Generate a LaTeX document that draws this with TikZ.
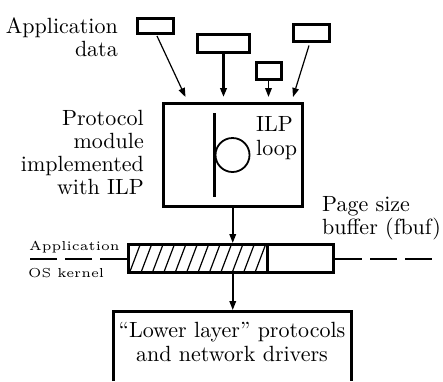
\documentclass[tikz,border=0pt]{standalone}
\usepackage{graphicx}
\usetikzlibrary{arrows.meta,calc}

% text blocks: Latin Modern 10pt design, enlarged
\newcommand\biglines[2]{\scalebox{2.2}{\fontsize{10}{10.6}\selectfont\begin{tabular}[t]{@{}#1@{}}#2\end{tabular}}}
\newcommand\smallword[1]{\scalebox{2.6}{\fontsize{5}{6}\selectfont #1}}

\tikzset{
  databox/.style={draw, rectangle, line width=3pt, inner sep=0pt},
  heavy/.style={line width=3pt},
  label/.style={inner sep=0pt},
  tipped/.style={-{Triangle[length=9pt,width=6.5pt]}},
  thinarrow/.style={tipped, line width=1.2pt},
  midarrow/.style={tipped, line width=1.8pt},
  fatarrow/.style={tipped, line width=2.4pt},
  hatch/.style={line width=1.2pt},
  dashline/.style={line width=2pt, dash pattern=on 27pt off 8pt},
}

\begin{document}
\begin{tikzpicture}[x=1pt,y=-1pt]
\useasboundingbox (0,0) rectangle (443,381);

% application data blocks
\node[databox, minimum width=36pt, minimum height=15.5pt] (d1) at (155.5,25.75) {};
\node[databox, minimum width=52pt, minimum height=18pt]   (d2) at (223.5,43) {};
\node[databox, minimum width=25pt, minimum height=17pt]   (d3) at (268.5,71) {};
\node[databox, minimum width=36pt, minimum height=17pt]   (d4) at (311,32.5) {};

% protocol module
\node[databox, minimum width=139.5pt, minimum height=103pt] (mod) at (232.75,155) {};
\coordinate (mtop) at ([yshift=5pt]mod.north);

% ILP loop symbol
\coordinate (vtop) at (214,113);
\coordinate (vbot) at (214,197);
\draw[heavy] (vtop) -- (vbot);
\node[draw, circle, line width=1.8pt, minimum size=34pt, inner sep=0pt] (loop) at (232.5,155) {};

% page size buffer with the filled part hatched
\node[databox, minimum width=205pt, minimum height=28pt] (bar) at (231,258.5) {};
\begin{scope}
  \clip (128.5,244.5) rectangle (267,272.5);
  \foreach \k in {0,...,11}
    \draw[hatch] ({129.4+11.4*\k},273) -- ({140.4+11.4*\k},244);
\end{scope}
\coordinate (splitT) at (267,244.5);
\coordinate (splitB) at (267,272.5);
\draw[heavy] (splitT) -- (splitB);

% application / kernel boundary
\coordinate (dl) at (28,258.5);
\coordinate (dr) at (435,258.5);
\draw[dashline] (bar.west) -- (dl);
\draw[dashline] (bar.east) -- (dr);

% lower layer box, open at the bottom
\coordinate (lowL) at (113,381);
\coordinate (lowR) at (351,381);
\coordinate (lowtop) at (232.75,310);
\draw[heavy] (lowL) |- (lowR |- 0,311.5) -- (lowR);

% connectors
\draw[thinarrow] ([xshift=1.5pt,yshift=-1pt]d1.south) -- ([xshift=24pt,yshift=5pt]mod.north west);
\draw[fatarrow] (d2.south) -- (d2.south |- mtop);
\draw[midarrow] (d3.south) -- (d3.south |- mtop);
\draw[thinarrow] ([xshift=-2pt,yshift=-3pt]d4.south) -- ([xshift=-11pt,yshift=5pt]mod.north east);
\draw[midarrow] (mod.south) -- (mod.south |- bar.north);
\draw[midarrow] (mod.south |- bar.south) -- (lowtop);

% texts
\node[label, anchor=base east] (tapp) at (118,33) {\biglines{r}{Application\\data}};
\node[label, anchor=base east] (tprot) at (144,125) {\biglines{r}{Protocol\\module\\implemented\\with ILP}};
\node[label, anchor=base west] (tilp) at (256,131.7) {\biglines{l}{ILP\\loop}};
\node[label, anchor=base west] (tpage) at (322,211) {\biglines{l}{Page size\\buffer (fbuf)}};
\node[label, anchor=base] (tlow) at (232,337.7) {\biglines{c}{“Lower layer” protocols\\and network drivers}};
\node[label, anchor=base west] (tuser) at (29,250) {\smallword{Application}};
\node[label, anchor=base west] (tkern) at (28,277.5) {\smallword{OS kernel}};
\end{tikzpicture}
\end{document}
